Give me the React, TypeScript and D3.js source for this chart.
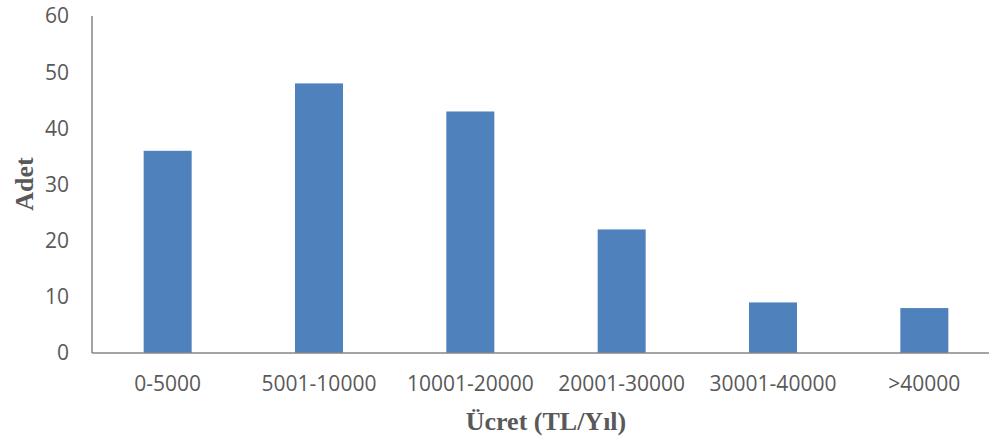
import React from "react";
import * as d3 from "d3";

const categories = ["0-5000", "5001-10000", "10001-20000", "20001-30000", "30001-40000", ">40000"];
const values = [36, 48, 43, 22, 9, 8];
const yTicks = [0, 10, 20, 30, 40, 50, 60];

export default function App() {
  const W = 989, H = 439;
  const x0 = 92, x1 = 1000, yTop = 16, yBot = 353;
  const y = d3.scaleLinear().domain([0, 60]).range([yBot, yTop]);
  const xb = d3.scaleBand<string>().domain(categories).range([x0, x1]);
  const barW = 48;
  return (
    <svg width={W} height={H} style={{ position: "absolute", left: 0, top: 0, background: "#fff" }}>
      {values.map((v, i) => (
        <rect key={i} x={xb(categories[i])! + xb.bandwidth() / 2 - barW / 2} y={y(v)} width={barW} height={yBot - y(v)} fill="#4f81bd" />
      ))}
      <line x1={x0} x2={W} y1={yBot} y2={yBot} stroke="#868686" strokeWidth={1.5} />
      <line x1={x0} x2={x0} y1={yTop} y2={yBot} stroke="#868686" strokeWidth={1.5} />
      {yTicks.map((t) => (
        <text key={t} x={69} y={y(t)} dy="0.35em" textAnchor="end" fontFamily="Open Sans, Liberation Sans, sans-serif" fontSize={21} fill="#595959">{t}</text>
      ))}
      {categories.map((c) => (
        <text key={c} x={xb(c)! + xb.bandwidth() / 2} y={384} dy="0.35em" textAnchor="middle" fontFamily="Open Sans, Liberation Sans, sans-serif" fontSize={21} fill="#595959">{c}</text>
      ))}
      <text x={546} y={421} dy="0.35em" textAnchor="middle" fontFamily="Liberation Serif, Times New Roman, serif" fontWeight="bold" fontSize={26} fill="#595959">Ücret (TL/Yıl)</text>
      <text transform={`translate(24,184) rotate(-90)`} dy="0.35em" textAnchor="middle" fontFamily="Liberation Serif, Times New Roman, serif" fontWeight="bold" fontSize={26} fill="#595959">Adet</text>
    </svg>
  );
}
